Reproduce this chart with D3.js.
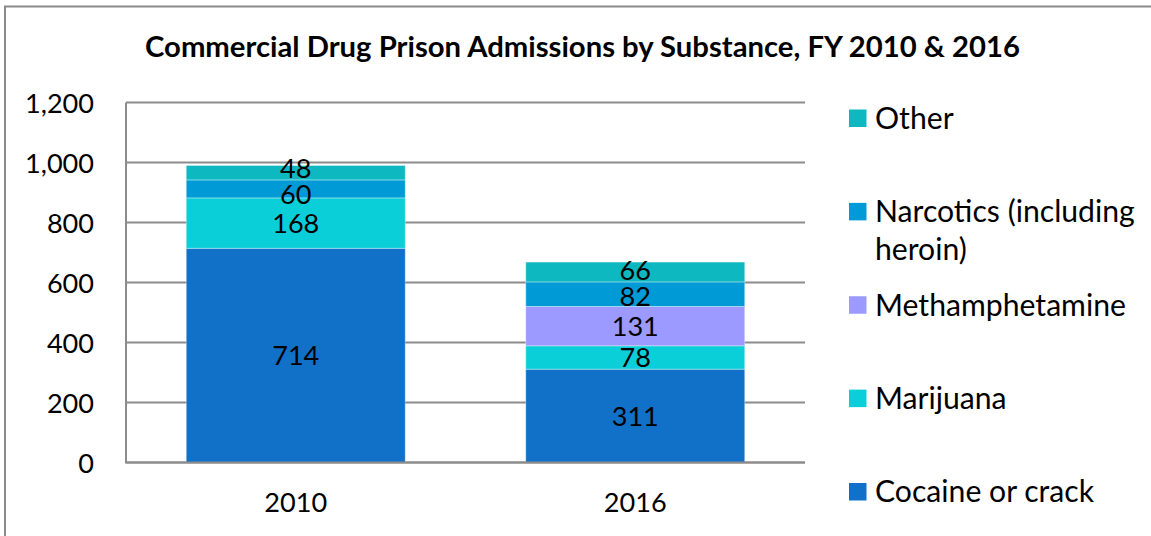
<!DOCTYPE html>
<html>
<head>
<meta charset="utf-8">
<script src="https://cdn.jsdelivr.net/npm/d3@7"></script>
<style>
  html, body { margin: 0; padding: 0; background: #fff; }
  svg { display: block; }
</style>
</head>
<body>
<svg id="chart" width="1151" height="536"></svg>
<script>
// Commercial drug prison admissions by substance, FY 2010 and FY 2016
const years = ["2010", "2016"];
const substances = ["Cocaine or crack", "Marijuana", "Methamphetamine", "Narcotics (including heroin)", "Other"];
const cocaine = [714, 311];
const marijuana = [168, 78];
const meth = [0, 131];
const narcotics = [60, 82];
const other = [48, 66];
const yTicks = [0, 200, 400, 600, 800, 1000, 1200];
const colors = ["#1170c7", "#0bcfd8", "#9c99ff", "#009bd6", "#0db8c0"];
const titleText = "Commercial Drug Prison Admissions by Substance, FY 2010 & 2016";

const FONT = "Lato, 'Open Sans', 'DejaVu Sans', sans-serif";
const W = 1151, H = 536;
const margin = { left: 126, right: 346, top: 102.5, bottom: 73.5 };

const svg = d3.select("#chart");

// size a font so that a reference string reaches a given width
function fitSize(str, weight, width) {
  const t = svg.append("text").attr("font-family", FONT).attr("font-weight", weight)
    .attr("font-size", 100).text(str);
  const w = t.node().getComputedTextLength();
  t.remove();
  return 100 * width / w;
}
const titleSize = fitSize(titleText, 700, 875);
const legendSize = fitSize("Methamphetamine", 400, 251);
const numSize = fitSize("1,200", 400, 69);

// outer frame
svg.append("path")
  .attr("d", `M5,${H + 5}V6.5H${W + 5}`)
  .attr("fill", "none").attr("stroke", "#8a8a8a").attr("stroke-width", 2);

// title
svg.append("text")
  .attr("x", 582.5).attr("y", 57)
  .attr("text-anchor", "middle")
  .attr("font-family", FONT).attr("font-weight", 700).attr("font-size", titleSize)
  .attr("fill", "#000").text(titleText);

const x = d3.scaleBand().domain(years)
  .range([margin.left, W - margin.right])
  .paddingInner(0.355).paddingOuter(0.1775);
const y = d3.scaleLinear().domain([0, 1200]).range([H - margin.bottom, margin.top]);

// gridlines
svg.append("g")
  .selectAll("line").data(yTicks).join("line")
  .attr("x1", margin.left).attr("x2", W - margin.right)
  .attr("y1", d => y(d)).attr("y2", d => y(d))
  .attr("stroke", "#8c8c8c").attr("stroke-width", 2);

// stacked bars
const rows = years.map((yr, i) => ({
  year: yr,
  "Cocaine or crack": cocaine[i],
  "Marijuana": marijuana[i],
  "Methamphetamine": meth[i],
  "Narcotics (including heroin)": narcotics[i],
  "Other": other[i]
}));
const series = d3.stack().keys(substances)(rows);
const color = d3.scaleOrdinal().domain(substances).range(colors);

const barG = svg.append("g");
series.forEach(s => {
  barG.selectAll(null).data(s.filter(d => d[1] - d[0] > 0)).join("rect")
    .attr("x", d => x(d.data.year))
    .attr("width", x.bandwidth())
    .attr("y", d => y(d[1]))
    .attr("height", d => y(d[0]) - y(d[1]))
    .attr("fill", color(s.key))
    .attr("stroke", "rgba(255,255,255,0.35)").attr("stroke-width", 1);
});

// value labels, spread apart where thin segments would make them collide
const minGap = 26;
years.forEach((yr, i) => {
  const labs = series.map(s => s[i])
    .filter(d => d[1] - d[0] > 0)
    .map(d => ({ v: d[1] - d[0], cy: (y(d[0]) + y(d[1])) / 2, year: yr }));
  labs.sort((a, b) => b.cy - a.cy); // bottom to top
  for (let iter = 0; iter < 20; iter++) {
    for (let k = 0; k < labs.length - 1; k++) {
      const a = labs[k], b = labs[k + 1];
      const d = a.cy - b.cy;
      if (d < minGap) {
        const push = (minGap - d) / 2;
        a.cy += push; b.cy -= push;
      }
    }
  }
  svg.append("g").selectAll("text").data(labs).join("text")
    .attr("x", d => x(d.year) + x.bandwidth() / 2)
    .attr("y", d => d.cy)
    .attr("dy", "0.36em")
    .attr("text-anchor", "middle")
    .attr("font-family", FONT).attr("font-size", numSize).attr("fill", "#000")
    .text(d => d.v);
});

// plot frame: left edge and baseline
svg.append("path")
  .attr("d", `M${margin.left},${y(1200)}V${y(0)}H${W - margin.right}`)
  .attr("fill", "none").attr("stroke", "#8c8c8c").attr("stroke-width", 2);

// y axis labels
const yAxis = d3.axisLeft(y).tickValues(yTicks).tickSize(0).tickPadding(32)
  .tickFormat(d3.format(","));
const ya = svg.append("g").attr("transform", `translate(${margin.left},0)`).call(yAxis);
ya.select(".domain").remove();
ya.selectAll("text").attr("font-family", FONT).attr("font-size", numSize).attr("fill", "#000")
  .attr("dy", "0.36em");

// x axis labels
const xAxis = d3.axisBottom(x).tickSize(0).tickPadding(30);
const xa = svg.append("g").attr("transform", `translate(0,${y(0)})`).call(xAxis);
xa.select(".domain").remove();
xa.selectAll("text").attr("font-family", FONT).attr("font-size", numSize).attr("fill", "#000")
  .attr("dy", "0.71em");

// legend, top entry first
const legendItems = [
  { key: "Other", lines: ["Other"] },
  { key: "Narcotics (including heroin)", lines: ["Narcotics (including", "heroin)"] },
  { key: "Methamphetamine", lines: ["Methamphetamine"] },
  { key: "Marijuana", lines: ["Marijuana"] },
  { key: "Cocaine or crack", lines: ["Cocaine or crack"] }
];
const ly = d3.scalePoint().domain(legendItems.map(d => d.key)).range([118, 491.5]);
const lg = svg.append("g").selectAll("g").data(legendItems).join("g")
  .attr("transform", d => `translate(849,${ly(d.key)})`);
lg.append("rect").attr("x", 0).attr("y", -8.5).attr("width", 17.5).attr("height", 17.5)
  .attr("fill", d => color(d.key));
lg.append("text")
  .attr("font-family", FONT).attr("font-size", legendSize).attr("fill", "#000")
  .selectAll("tspan").data(d => d.lines).join("tspan")
  .attr("x", 26).attr("y", (d, i) => i * 38)
  .attr("dy", "0.36em")
  .text(d => d);
</script>
</body>
</html>
